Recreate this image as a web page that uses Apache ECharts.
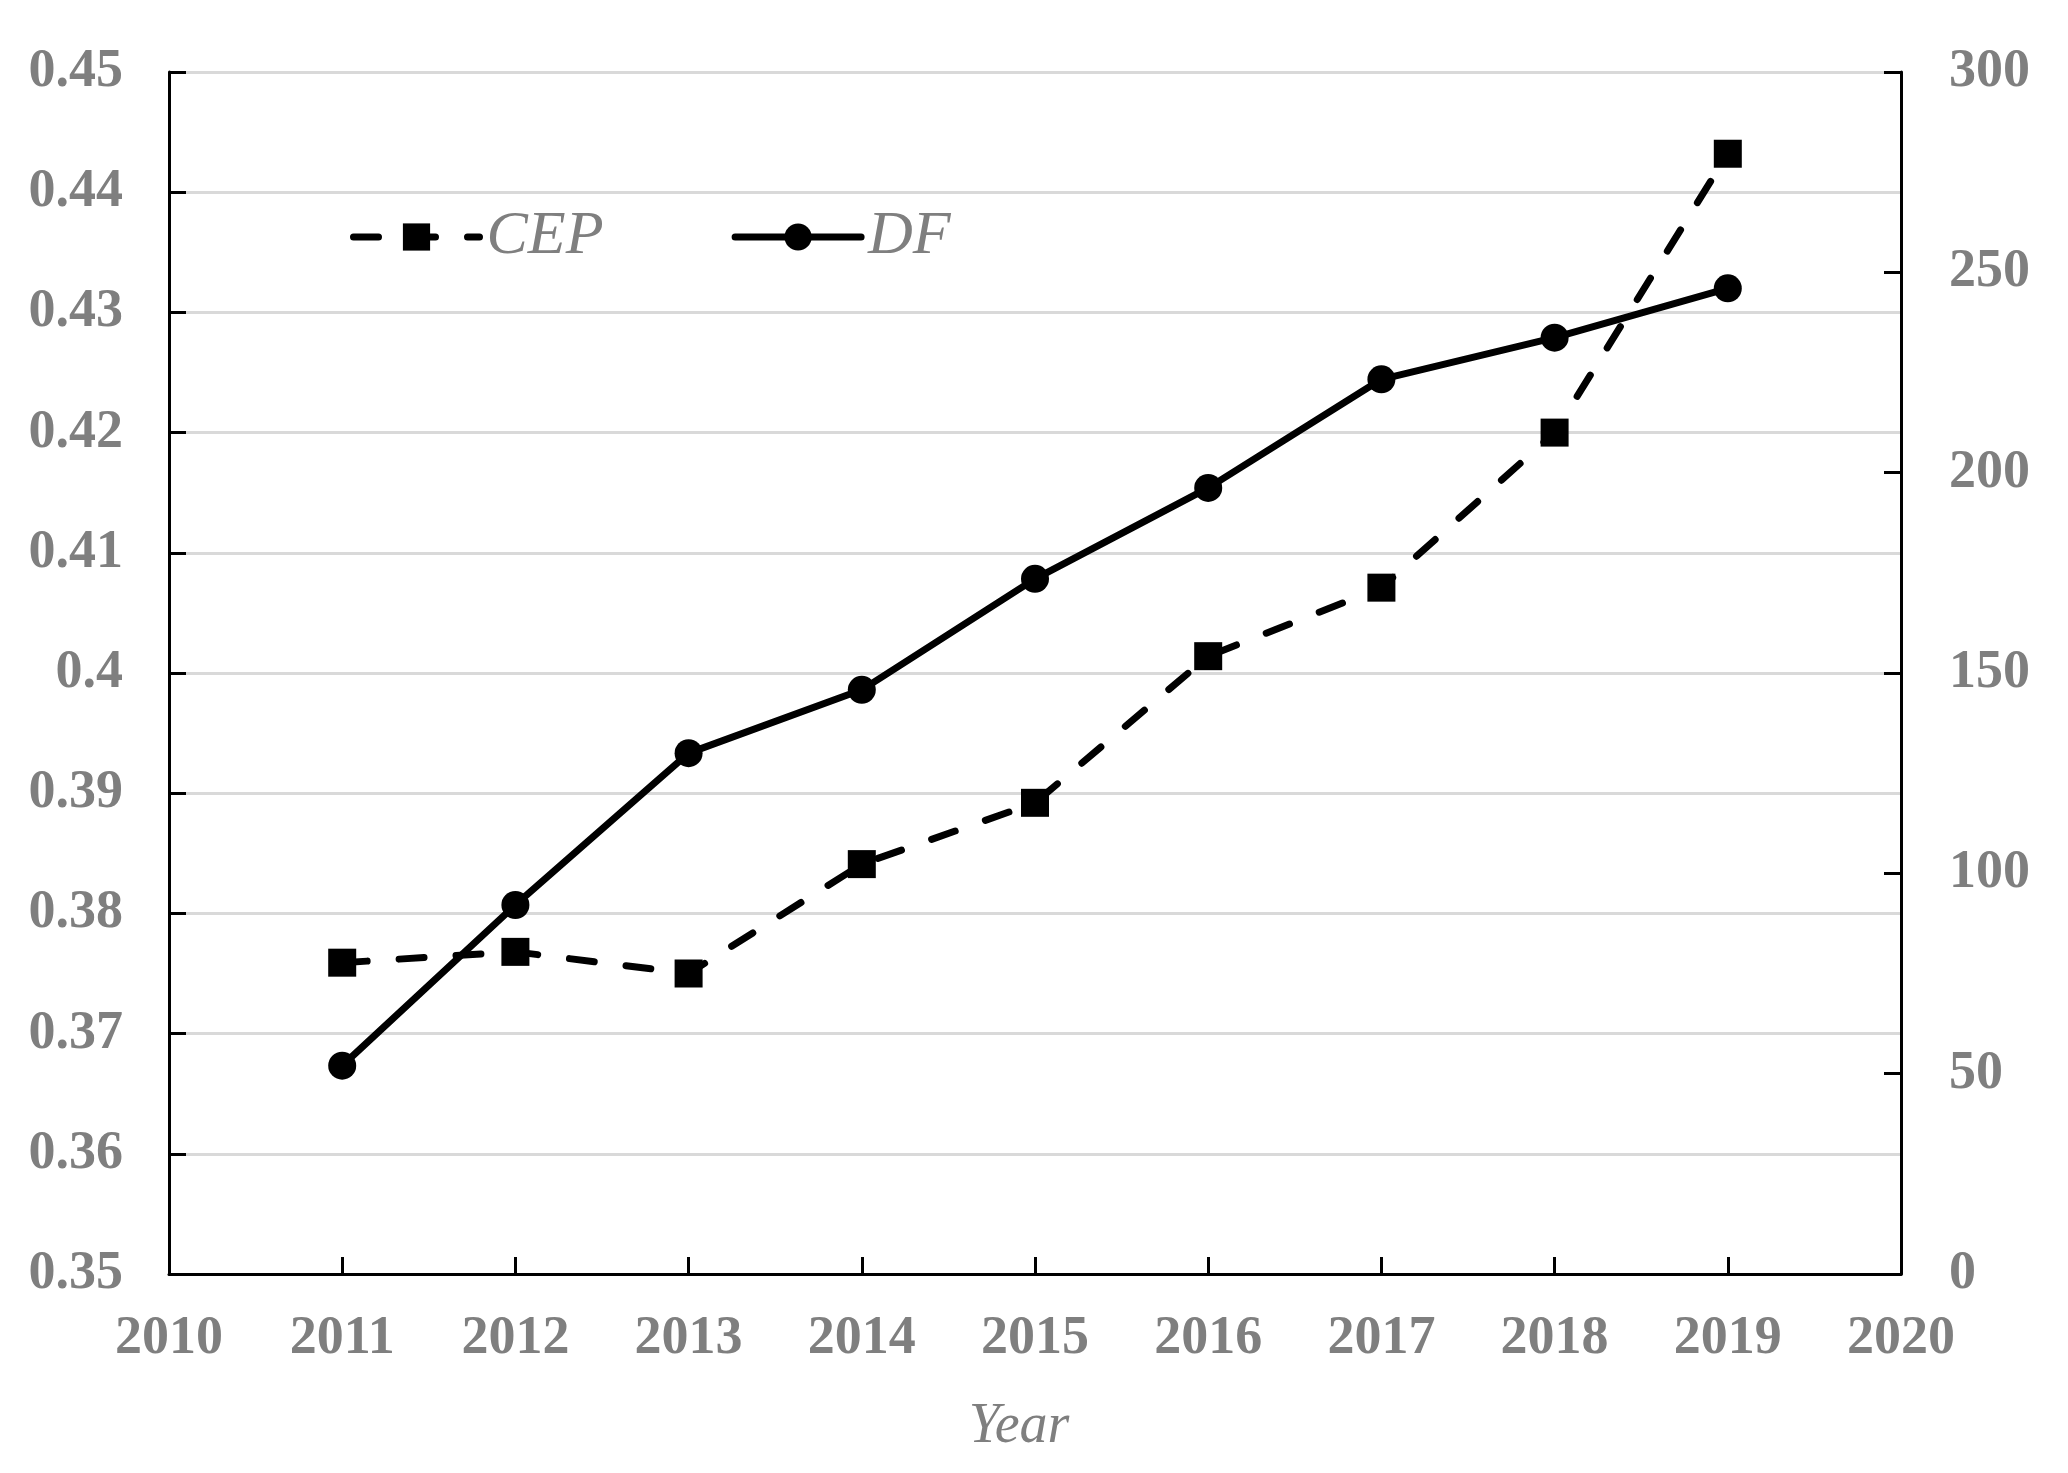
<!DOCTYPE html>
<html>
<head>
<meta charset="utf-8">
<script src="https://cdn.jsdelivr.net/npm/echarts@6/dist/echarts.min.js"></script>
<style>
html,body{margin:0;padding:0;background:#fff;}
#chart{width:2068px;height:1473px;}
</style>
</head>
<body>
<div id="chart"></div>
<script>
const years = [2011, 2012, 2013, 2014, 2015, 2016, 2017, 2018, 2019];
const cepValues = [0.3759, 0.3768, 0.3750, 0.3841, 0.3892, 0.4014, 0.4071, 0.4200, 0.4432];
const dfValues = [52.0, 92.1, 130.0, 145.8, 173.5, 196.2, 223.3, 233.7, 246.0];
const seriesNames = ['CEP', 'DF'];
const xAxisTitle = 'Year';

const FONT = '"Liberation Serif", "Times New Roman", serif';
const GRAY = '#7f7f7f';

const chart = echarts.init(document.getElementById('chart'), null, {renderer: 'canvas'});

const labelStyle = {color: GRAY, fontFamily: FONT, fontWeight: 'bold', fontSize: 54};

chart.setOption({
  backgroundColor: '#ffffff',
  animation: false,
  grid: {left: 169, right: 167, top: 72, bottom: 199, containLabel: false},
  legend: {
    left: 345, top: 201,
    itemWidth: 126, itemHeight: 34, itemGap: 128,
    lineStyle: {width: 7, cap: 'round'},
    textStyle: {color: GRAY, fontFamily: FONT, fontStyle: 'italic', fontSize: 62, padding: [0, 0, 0, 2]},
    data: seriesNames
  },
  xAxis: {
    type: 'value', min: 2010, max: 2020, interval: 1,
    name: xAxisTitle, nameLocation: 'middle', nameGap: 125,
    nameTextStyle: {color: GRAY, fontFamily: FONT, fontStyle: 'italic', fontSize: 56, padding: [0, 32, 0, 0]},
    axisLine: {show: true, lineStyle: {color: '#000', width: 3}},
    axisTick: {show: true, inside: true, length: 17, lineStyle: {color: '#000', width: 3}},
    axisLabel: Object.assign({margin: 38, formatter: v => String(v)}, labelStyle),
    splitLine: {show: false}
  },
  yAxis: [
    {
      type: 'value', min: 0.35, max: 0.45, interval: 0.01, position: 'left',
      axisLine: {show: true, lineStyle: {color: '#000', width: 3}},
      axisTick: {show: true, inside: true, length: 17, lineStyle: {color: '#000', width: 3}},
      axisLabel: Object.assign({margin: 46, formatter: v => String(Math.round(v * 100) / 100)}, labelStyle),
      splitLine: {show: true, lineStyle: {color: '#d9d9d9', width: 3}}
    },
    {
      type: 'value', min: 0, max: 300, interval: 50, position: 'right',
      axisLine: {show: true, lineStyle: {color: '#000', width: 3}},
      axisTick: {show: true, inside: true, length: 17, lineStyle: {color: '#000', width: 3}},
      axisLabel: Object.assign({margin: 48}, labelStyle),
      splitLine: {show: false}
    }
  ],
  series: [
    {
      name: seriesNames[0], type: 'line', yAxisIndex: 0,
      data: years.map((y, i) => [y, cepValues[i]]),
      symbol: 'rect', symbolSize: 28,
      itemStyle: {color: '#000'},
      lineStyle: {color: '#000', width: 7, type: [25, 32], cap: 'round'},
      z: 3
    },
    {
      name: seriesNames[1], type: 'line', yAxisIndex: 1,
      data: years.map((y, i) => [y, dfValues[i]]),
      symbol: 'circle', symbolSize: 28,
      itemStyle: {color: '#000'},
      lineStyle: {color: '#000', width: 7, type: 'solid'},
      z: 4
    }
  ]
});
</script>
</body>
</html>
